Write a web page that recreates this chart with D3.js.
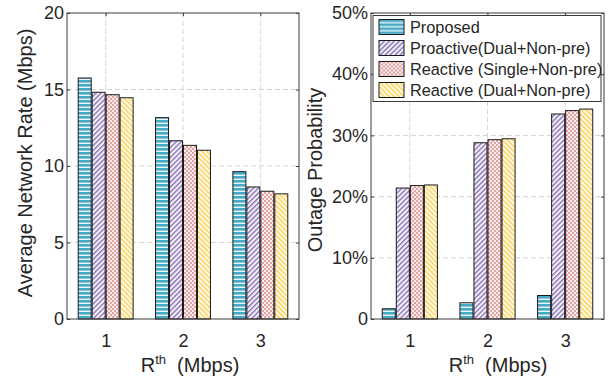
<!DOCTYPE html>
<html>
<head>
<meta charset="utf-8">
<script src="https://cdn.jsdelivr.net/npm/d3@7"></script>
<style>
  body { margin: 0; background: #fff; }
  text { font-family: "Liberation Sans", Arial, Helvetica, sans-serif; fill: #262626; }
</style>
</head>
<body>
<div id="chart"></div>
<script>
// x categories (R^th in Mbps)
var categories = [1, 2, 3];
var seriesNames = ['Proposed', 'Proactive(Dual+Non-pre)', 'Reactive (Single+Non-pre)', 'Reactive (Dual+Non-pre)'];

// average network rate (Mbps)
var rateProposed = [15.75, 13.16, 9.63];
var rateProactive = [14.82, 11.65, 8.63];
var rateReactiveSingle = [14.66, 11.35, 8.35];
var rateReactiveDual = [14.46, 11.03, 8.18];

// outage probability (%)
var outProposed = [1.67, 2.65, 3.84];
var outProactive = [21.4, 28.8, 33.5];
var outReactiveSingle = [21.8, 29.3, 34.05];
var outReactiveDual = [21.9, 29.45, 34.3];

var rateTicks = [0, 5, 10, 15, 20];
var outTicks = [0, 10, 20, 30, 40, 50];

var svgWidth = 612;
var svgHeight = 384;

var svg = d3.select('#chart').append('svg')
    .attr('width', svgWidth).attr('height', svgHeight);

// fill patterns for the four series
var defs = svg.append('defs');

var pBlue = defs.append('pattern').attr('id', 'pat0')
    .attr('patternUnits', 'userSpaceOnUse').attr('width', 4).attr('height', 4);
pBlue.append('rect').attr('width', 4).attr('height', 4).attr('fill', '#48a9c5');
pBlue.append('rect').attr('y', 2.6).attr('width', 4).attr('height', 1.4).attr('fill', '#eaf6fa');

var pPurple = defs.append('pattern').attr('id', 'pat1')
    .attr('patternUnits', 'userSpaceOnUse').attr('width', 3.5).attr('height', 3.5)
    .attr('patternTransform', 'rotate(45)');
pPurple.append('rect').attr('width', 3.5).attr('height', 3.5).attr('fill', '#f4f1f8');
pPurple.append('rect').attr('width', 1.4).attr('height', 3.5).attr('fill', '#8a74b8');

var pPink = defs.append('pattern').attr('id', 'pat2')
    .attr('patternUnits', 'userSpaceOnUse').attr('width', 4).attr('height', 4);
pPink.append('rect').attr('width', 4).attr('height', 4).attr('fill', '#fbeeee');
pPink.append('rect').attr('width', 2).attr('height', 2).attr('fill', '#e3a3a2');
pPink.append('rect').attr('x', 2).attr('y', 2).attr('width', 2).attr('height', 2).attr('fill', '#e3a3a2');

var pYellow = defs.append('pattern').attr('id', 'pat3')
    .attr('patternUnits', 'userSpaceOnUse').attr('width', 3.5).attr('height', 3.5)
    .attr('patternTransform', 'rotate(-45)');
pYellow.append('rect').attr('width', 3.5).attr('height', 3.5).attr('fill', '#fffaea');
pYellow.append('rect').attr('width', 1.5).attr('height', 3.5).attr('fill', '#fdd45e');

function drawPanel(opts) {
    var left = opts.left, right = opts.right, top = 13, bottom = 319;
    var g = svg.append('g');

    var x = d3.scaleLinear().domain([0.5, 3.5]).range([left, right]);
    var y = d3.scaleLinear().domain([0, opts.max]).range([bottom, top]);
    var inner = d3.scaleBand().domain(d3.range(opts.series.length))
        .range([-0.355, 0.355]).paddingInner(0.07);

    // dashed grid
    g.selectAll('.gx').data(categories).enter().append('line')
        .attr('x1', function (d) { return x(d); }).attr('x2', function (d) { return x(d); })
        .attr('y1', top).attr('y2', bottom)
        .attr('stroke', '#d4d4d4').attr('stroke-dasharray', '5,3');
    g.selectAll('.gy').data(opts.ticks.slice(1, -1)).enter().append('line')
        .attr('x1', left).attr('x2', right)
        .attr('y1', function (d) { return y(d); }).attr('y2', function (d) { return y(d); })
        .attr('stroke', '#d4d4d4').attr('stroke-dasharray', '5,3');

    // bars
    opts.series.forEach(function (vals, s) {
        g.selectAll('.b' + s).data(vals).enter().append('rect')
            .attr('x', function (d, i) { return x(categories[i] + inner(s)); })
            .attr('width', x(inner.bandwidth()) - x(0))
            .attr('y', function (d) { return y(d); })
            .attr('height', function (d) { return bottom - y(d); })
            .attr('fill', 'url(#pat' + s + ')')
            .attr('stroke', '#1a1a1a').attr('stroke-width', 1);
    });

    // box
    g.append('rect').attr('x', left).attr('y', top)
        .attr('width', right - left).attr('height', bottom - top)
        .attr('fill', 'none').attr('stroke', '#3a3a3a').attr('stroke-width', 1);

    // ticks inside on all sides
    var yAxisL = d3.axisLeft(y).tickValues(opts.ticks).tickSizeInner(-3).tickSizeOuter(0)
        .tickFormat(opts.fmt).tickPadding(3);
    var yl = g.append('g').attr('transform', 'translate(' + left + ',0)').call(yAxisL);
    var yAxisR = d3.axisRight(y).tickValues(opts.ticks).tickSizeInner(-3).tickSizeOuter(0).tickFormat('');
    var yr = g.append('g').attr('transform', 'translate(' + right + ',0)').call(yAxisR);
    var xAxisB = d3.axisBottom(x).tickValues(categories).tickSizeInner(-3).tickSizeOuter(0)
        .tickFormat(d3.format('d')).tickPadding(15);
    var xb = g.append('g').attr('transform', 'translate(0,' + bottom + ')').call(xAxisB);
    var xAxisT = d3.axisTop(x).tickValues(categories).tickSizeInner(-3).tickSizeOuter(0).tickFormat('');
    var xt = g.append('g').attr('transform', 'translate(0,' + top + ')').call(xAxisT);

    [yl, yr, xb, xt].forEach(function (a) {
        a.select('.domain').remove();
        a.selectAll('line').attr('stroke', '#3a3a3a');
        a.selectAll('text').style('font-family', '"Liberation Sans", Arial, sans-serif')
            .style('font-size', '18px').attr('fill', '#262626');
    });

    // y label
    g.append('text')
        .attr('transform', 'translate(' + opts.ylabX + ',' + opts.ylabY + ') rotate(-90)')
        .attr('text-anchor', 'middle').style('font-size', '20px')
        .text(opts.ylabel);

    // x label with superscript
    var xl = g.append('text').attr('x', opts.xlabX).attr('y', 372)
        .attr('text-anchor', 'middle').style('font-size', '20px');
    xl.append('tspan').text('R');
    xl.append('tspan').attr('dy', -8).style('font-size', '13px').text('th');
    xl.append('tspan').attr('dy', 8).text('\u00a0 (Mbps)');
}

drawPanel({
    left: 67, right: 299, max: 20, ticks: rateTicks,
    fmt: d3.format('d'),
    series: [rateProposed, rateProactive, rateReactiveSingle, rateReactiveDual],
    ylabel: 'Average Network Rate (Mbps)', ylabX: 32, ylabY: 163, xlabX: 190
});

drawPanel({
    left: 371, right: 604, max: 50, ticks: outTicks,
    fmt: function (d) { return d === 0 ? '0' : d + '%'; },
    series: [outProposed, outProactive, outReactiveSingle, outReactiveDual],
    ylabel: 'Outage Probability', ylabX: 322, ylabY: 170, xlabX: 498
});

// legend (right panel)
var legend = svg.append('g').attr('transform', 'translate(373,15.5)');
legend.append('rect').attr('width', 228).attr('height', 86)
    .attr('fill', '#fff').attr('stroke', '#3a3a3a').attr('stroke-width', 1);
var rows = legend.selectAll('.row').data(seriesNames).enter().append('g')
    .attr('transform', function (d, i) { return 'translate(6,' + (4 + i * 21) + ')'; });
rows.append('rect').attr('width', 25).attr('height', 15)
    .attr('fill', function (d, i) { return 'url(#pat' + i + ')'; })
    .attr('stroke', '#1a1a1a');
rows.append('text').attr('x', 31).attr('y', 13.5)
    .style('font-size', '16.3px').text(function (d) { return d; });
</script>
</body>
</html>
